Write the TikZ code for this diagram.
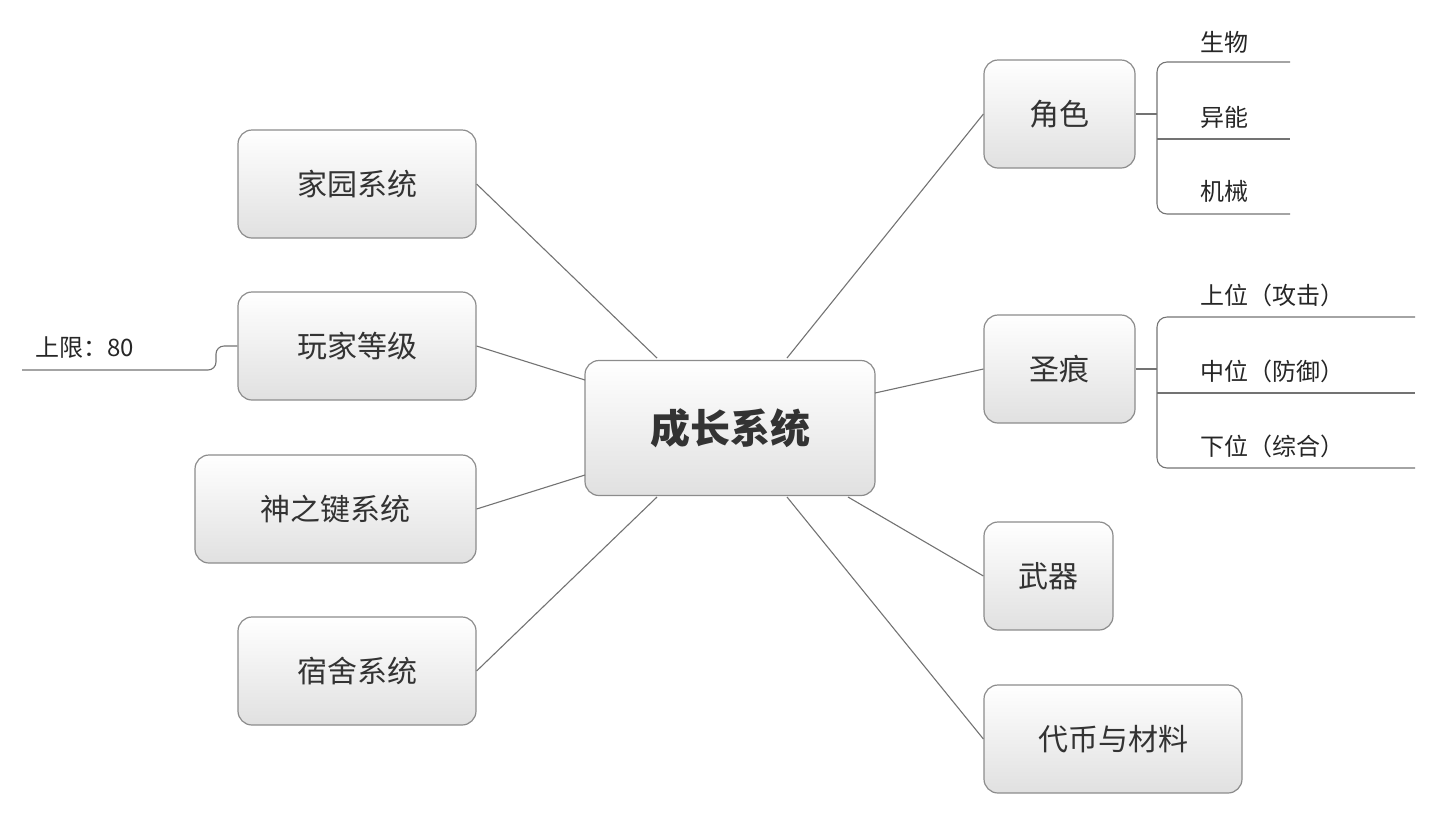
\documentclass[tikz,border=0pt]{standalone}
\usepackage{fontspec}
\setmainfont{Noto Sans CJK SC}
\begin{document}
\begin{tikzpicture}[x=1pt,y=-1pt,
  box/.style={draw=black!45,line width=1.2pt,rounded corners=14pt,top color=white,bottom color=black!12,inner sep=0pt,font=\fontsize{30}{30}\selectfont,text=black!80},
  ln/.style={draw=black!55,line width=1.1pt},
  sub/.style={anchor=west,font=\fontsize{24}{24}\selectfont,text=black!85,inner sep=0pt}]
\useasboundingbox (0,0) rectangle (1434,815);
\node[box,minimum width=290pt,minimum height=135pt,font=\fontsize{40}{40}\selectfont\bfseries,text=black!80] (c) at (730,428) {成长系统};
\node[box,minimum width=238pt,minimum height=108pt] (a) at (357,184) {家园系统};
\node[box,minimum width=238pt,minimum height=108pt] (b) at (357,346) {玩家等级};
\node[box,minimum width=281pt,minimum height=108pt] (d) at (335.5,509) {神之键系统};
\node[box,minimum width=238pt,minimum height=108pt] (e) at (357,671) {宿舍系统};
\node[box,minimum width=151pt,minimum height=108pt] (r) at (1059.5,114) {角色};
\node[box,minimum width=151pt,minimum height=108pt] (s) at (1059.5,369) {圣痕};
\node[box,minimum width=129pt,minimum height=108pt] (w) at (1048.5,576) {武器};
\node[box,minimum width=258pt,minimum height=108pt] (t) at (1113,739) {代币与材料};
\draw[ln] (a.east) -- (657,358);
\draw[ln] (b.east) -- (585,380);
\draw[ln] (d.east) -- (585,475);
\draw[ln] (e.east) -- (657,497);
\draw[ln] (r.west) -- (787,358);
\draw[ln] (s.west) -- (875,393);
\draw[ln] (w.west) -- (848,497);
\draw[ln] (t.west) -- (787,497);
% 角色 subs
\coordinate (r1) at (1290,62); \coordinate (r2) at (1290,139); \coordinate (r3) at (1290,214);
\draw[ln] (r.east) -- (1157,114);
\draw[ln,rounded corners=10pt] (r1) -- (1157,62) -- (1157,214) -- (r3);
\draw[ln] (1157,139) -- (r2);
\node[sub] (r1t) at (1200,42) {生物};
\node[sub] (r2t) at (1200,117) {异能};
\node[sub] (r3t) at (1200,191) {机械};
% 圣痕 subs
\coordinate (s1) at (1415,317); \coordinate (s2) at (1415,393); \coordinate (s3) at (1415,468);
\draw[ln] (s.east) -- (1157,369);
\draw[ln,rounded corners=10pt] (s1) -- (1157,317) -- (1157,468) -- (s3);
\draw[ln] (1157,393) -- (s2);
\node[sub] (s1t) at (1200,295) {上位（攻击）};
\node[sub] (s2t) at (1200,371) {中位（防御）};
\node[sub] (s3t) at (1200,446) {下位（综合）};
% 上限
\coordinate (l0) at (22,370);
\draw[ln,rounded corners=8pt] (b.west) -- (216,346) -- (216,370) -- (l0);
\node[sub] (lt) at (35,348) {上限：80};
\end{tikzpicture}
\end{document}
